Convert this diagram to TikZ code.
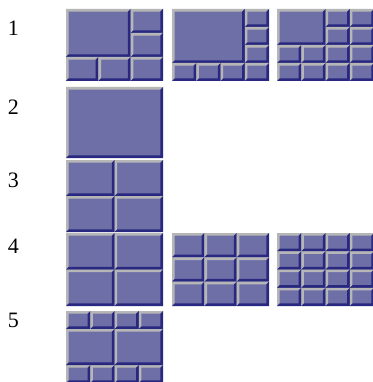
\documentclass[tikz,border=0pt]{standalone}
\usepackage{fontspec}
\setmainfont{Liberation Serif}
\usepackage{xcolor}
\definecolor{tilefill}{RGB}{111,111,168}
\definecolor{tilelight}{RGB}{182,182,182}
\definecolor{tiledark}{RGB}{40,40,128}
\usetikzlibrary{positioning}
% bevel width of a tile
\newcommand{\bw}{2.7}
% one bevelled tile: x0, y0, x1, y1 (y grows downwards)
\newcommand{\tile}[4]{%
  \fill[tilefill] ({#1},{#2}) rectangle ({#3},{#4});
  \fill[tilelight] ({#1},{#2}) -- ({#3},{#2}) -- ({#3-\bw},{#2+\bw}) -- ({#1+\bw},{#2+\bw})
    -- ({#1+\bw},{#4-\bw}) -- ({#1},{#4}) -- cycle;
  \fill[tiledark] ({#3},{#4}) -- ({#1},{#4}) -- ({#1+\bw},{#4-\bw}) -- ({#3-\bw},{#4-\bw})
    -- ({#3-\bw},{#2+\bw}) -- ({#3},{#2}) -- cycle;}
% panel origin and cell size
\newcommand{\setpanel}[4]{\def\px{#1}\def\py{#2}\def\cw{#3}\def\ch{#4}}
% tile over grid cells: col0, row0, col1, row1
\newcommand{\cell}[4]{\tile{\px+(#1)*\cw}{\py+(#2)*\ch}{\px+(#3)*\cw}{\py+(#4)*\ch}}
\newcommand{\grid}[2]{%
  \foreach \c in {1,...,#1} \foreach \r in {1,...,#2} {\cell{\c-1}{\r-1}{\c}{\r}}}

\begin{document}
\begin{tikzpicture}[x=1pt, y=-1pt,
  lbl/.style={font=\fontsize{22}{22}\selectfont, inner sep=0pt}
]
\useasboundingbox (0,0) rectangle (372,382);
\fill[white] (0,0) rectangle (372,382);
% row labels
\node[lbl] (lab1) at (13.5,28.5) {1};
\node[lbl] (lab2) at (13.5,107.5) {2};
\node[lbl] (lab3) at (13.5,180.5) {3};
\node[lbl] (lab4) at (13.5,246) {4};
\node[lbl] (lab5) at (13.5,320.5) {5};
% row 1
\setpanel{66}{9}{32.333}{24}
\cell{0}{0}{2}{2}
\cell{2}{0}{3}{1} \cell{2}{1}{3}{2}
\foreach \c in {0,1,2} {\cell{\c}{2}{\c+1}{3}}
\setpanel{172}{9}{24.25}{18}
\cell{0}{0}{3}{3}
\foreach \r in {0,1,2} {\cell{3}{\r}{4}{\r+1}}
\foreach \c in {0,...,3} {\cell{\c}{3}{\c+1}{4}}
\setpanel{277}{9}{24.25}{18}
\cell{0}{0}{2}{2}
\foreach \r in {0,1} {\cell{2}{\r}{3}{\r+1} \cell{3}{\r}{4}{\r+1}}
\foreach \r in {2,3} \foreach \c in {0,...,3} {\cell{\c}{\r}{\c+1}{\r+1}}
% row 2
\setpanel{66}{87}{97}{71}
\cell{0}{0}{1}{1}
% row 3
\setpanel{66}{160}{48.5}{36}
\grid{2}{2}
% row 4
\setpanel{66}{233}{48.5}{36.5}
\grid{2}{2}
\setpanel{172}{233}{32.333}{24.333}
\grid{3}{3}
\setpanel{277}{233}{24.25}{18.25}
\grid{4}{4}
% row 5
\setpanel{66}{311}{24.25}{18}
\foreach \c in {0,...,3} {\cell{\c}{0}{\c+1}{1} \cell{\c}{3}{\c+1}{4}}
\cell{0}{1}{2}{3} \cell{2}{1}{4}{3}
\end{tikzpicture}
\end{document}
